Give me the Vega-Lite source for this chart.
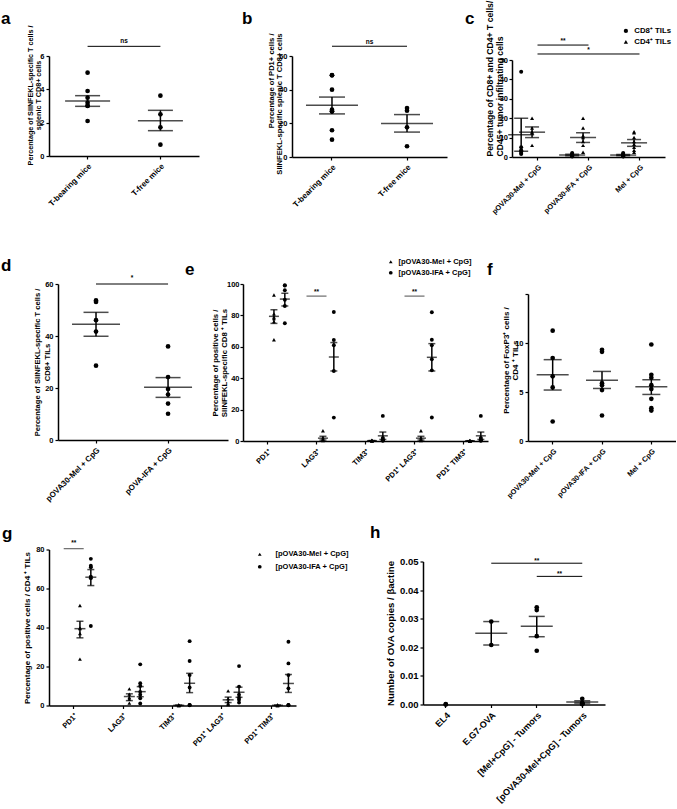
{
"$schema":"https://vega.github.io/schema/vega-lite/v6.json",
"padding":{"left":1,"top":0,"right":0,"bottom":0},
"autosize":{"type":"pad"},
"background":"white",
"config":{
 "font":"Liberation Sans",
 "view":{"stroke":null},
 "axis":{"grid":false,"domainColor":"black","domainWidth":1.5,"tickColor":"black","tickWidth":1.2,"tickSize":3,"labelColor":"black","labelFont":"Liberation Sans","labelFontWeight":"bold","labelFontSize":7.5,"labelPadding":2,"labelOverlap":false,"titleFont":"Liberation Sans","titleFontWeight":"bold","titleColor":"black","titleFontSize":7.5},
 "title":{"font":"Liberation Sans","fontSize":17,"fontWeight":"bold","color":"black","anchor":"start","frame":"group","offset":0},
 "legend":{"labelFont":"Liberation Sans","labelFontWeight":"bold","labelColor":"black","padding":0,"symbolFillColor":"black","symbolStrokeColor":"black"},
 "text":{"font":"Liberation Sans","fontWeight":"bold","fontSize":6.5,"color":"black"}
},
"datasets":{
 "a_pts":[{"g":"T-bearing mice","v":5.0},{"g":"T-bearing mice","v":3.9},{"g":"T-bearing mice","v":3.5},{"g":"T-bearing mice","v":3.2},{"g":"T-bearing mice","v":3.0},{"g":"T-bearing mice","v":3.02},{"g":"T-bearing mice","v":2.1},{"g":"T-free mice","v":3.62},{"g":"T-free mice","v":2.5},{"g":"T-free mice","v":1.72},{"g":"T-free mice","v":0.68}],
 "a_sum":[{"g":"T-bearing mice","mean":3.3,"lo":2.98,"hi":3.62},{"g":"T-free mice","mean":2.12,"lo":1.52,"hi":2.74}],
 "a_sig":[{"g1":"T-bearing mice","g2":"T-free mice","y":6.58,"ty":6.88,"label":"ns"}],
 "b_pts":[{"g":"T-bearing mice","v":48.5},{"g":"T-bearing mice","v":48.6},{"g":"T-bearing mice","v":40},{"g":"T-bearing mice","v":28.1},{"g":"T-bearing mice","v":27.1},{"g":"T-bearing mice","v":27.2},{"g":"T-bearing mice","v":15.9},{"g":"T-bearing mice","v":10.3},{"g":"T-free mice","v":27.5},{"g":"T-free mice","v":29.1},{"g":"T-free mice","v":17.6},{"g":"T-free mice","v":6.4}],
 "b_sum":[{"g":"T-bearing mice","mean":30.7,"lo":25.6,"hi":35.6},{"g":"T-free mice","mean":19.9,"lo":14.8,"hi":25.2}],
 "b_sig":[{"g1":"T-bearing mice","g2":"T-free mice","y":65.8,"ty":68.5,"label":"ns"}],
 "c_pts":[
  {"g":"pOVA30-Mel + CpG","s":"CD8⁺ TILs","v":44},{"g":"pOVA30-Mel + CpG","s":"CD8⁺ TILs","v":5},{"g":"pOVA30-Mel + CpG","s":"CD8⁺ TILs","v":3.5},{"g":"pOVA30-Mel + CpG","s":"CD8⁺ TILs","v":3},{"g":"pOVA30-Mel + CpG","s":"CD8⁺ TILs","v":2},{"g":"pOVA30-Mel + CpG","s":"CD8⁺ TILs","v":1.5},
  {"g":"pOVA30-Mel + CpG","s":"CD4⁺ TILs","v":20},{"g":"pOVA30-Mel + CpG","s":"CD4⁺ TILs","v":15},{"g":"pOVA30-Mel + CpG","s":"CD4⁺ TILs","v":13},{"g":"pOVA30-Mel + CpG","s":"CD4⁺ TILs","v":12.5},{"g":"pOVA30-Mel + CpG","s":"CD4⁺ TILs","v":6},
  {"g":"pOVA30-IFA + CpG","s":"CD8⁺ TILs","v":2},{"g":"pOVA30-IFA + CpG","s":"CD8⁺ TILs","v":1.5},{"g":"pOVA30-IFA + CpG","s":"CD8⁺ TILs","v":1.2},{"g":"pOVA30-IFA + CpG","s":"CD8⁺ TILs","v":1},{"g":"pOVA30-IFA + CpG","s":"CD8⁺ TILs","v":0.8},{"g":"pOVA30-IFA + CpG","s":"CD8⁺ TILs","v":0.5},{"g":"pOVA30-IFA + CpG","s":"CD8⁺ TILs","v":0.3},
  {"g":"pOVA30-IFA + CpG","s":"CD4⁺ TILs","v":20},{"g":"pOVA30-IFA + CpG","s":"CD4⁺ TILs","v":15},{"g":"pOVA30-IFA + CpG","s":"CD4⁺ TILs","v":11},{"g":"pOVA30-IFA + CpG","s":"CD4⁺ TILs","v":10},{"g":"pOVA30-IFA + CpG","s":"CD4⁺ TILs","v":8},{"g":"pOVA30-IFA + CpG","s":"CD4⁺ TILs","v":6},{"g":"pOVA30-IFA + CpG","s":"CD4⁺ TILs","v":2.5},
  {"g":"Mel + CpG","s":"CD8⁺ TILs","v":2},{"g":"Mel + CpG","s":"CD8⁺ TILs","v":1.6},{"g":"Mel + CpG","s":"CD8⁺ TILs","v":1.3},{"g":"Mel + CpG","s":"CD8⁺ TILs","v":1},{"g":"Mel + CpG","s":"CD8⁺ TILs","v":0.8},{"g":"Mel + CpG","s":"CD8⁺ TILs","v":0.6},{"g":"Mel + CpG","s":"CD8⁺ TILs","v":0.4},{"g":"Mel + CpG","s":"CD8⁺ TILs","v":0.3},
  {"g":"Mel + CpG","s":"CD4⁺ TILs","v":13},{"g":"Mel + CpG","s":"CD4⁺ TILs","v":12.5},{"g":"Mel + CpG","s":"CD4⁺ TILs","v":10},{"g":"Mel + CpG","s":"CD4⁺ TILs","v":8},{"g":"Mel + CpG","s":"CD4⁺ TILs","v":6.5},{"g":"Mel + CpG","s":"CD4⁺ TILs","v":5},{"g":"Mel + CpG","s":"CD4⁺ TILs","v":3.5},{"g":"Mel + CpG","s":"CD4⁺ TILs","v":2.5}],
 "c_sum":[
  {"g":"pOVA30-Mel + CpG","s":"CD8⁺ TILs","mean":11.5,"lo":3,"hi":20},{"g":"pOVA30-Mel + CpG","s":"CD4⁺ TILs","mean":12.8,"lo":10,"hi":15.5},
  {"g":"pOVA30-IFA + CpG","s":"CD8⁺ TILs","mean":1.0,"lo":0.6,"hi":1.4},{"g":"pOVA30-IFA + CpG","s":"CD4⁺ TILs","mean":10,"lo":7.5,"hi":12.5},
  {"g":"Mel + CpG","s":"CD8⁺ TILs","mean":1.0,"lo":0.7,"hi":1.3},{"g":"Mel + CpG","s":"CD4⁺ TILs","mean":7.3,"lo":5.5,"hi":9}],
 "c_sig":[{"g1":"pOVA30-Mel + CpG","g2":"pOVA30-IFA + CpG","y":57.7,"ty":59.8,"label":"**","tx":"pOVA30-Mel + CpG","edge":1},{"g1":"pOVA30-Mel + CpG","g2":"Mel + CpG","y":53.1,"ty":55,"label":"*","tx":"pOVA30-IFA + CpG","edge":0}],
 "d_pts":[{"g":"pOVA30-Mel + CpG","v":53.7},{"g":"pOVA30-Mel + CpG","v":53.1},{"g":"pOVA30-Mel + CpG","v":46.1},{"g":"pOVA30-Mel + CpG","v":41.7},{"g":"pOVA30-Mel + CpG","v":28.6},{"g":"pOVA-IFA + CpG","v":36},{"g":"pOVA-IFA + CpG","v":24.2},{"g":"pOVA-IFA + CpG","v":19.6},{"g":"pOVA-IFA + CpG","v":17.5},{"g":"pOVA-IFA + CpG","v":14},{"g":"pOVA-IFA + CpG","v":10.1}],
 "d_sum":[{"g":"pOVA30-Mel + CpG","mean":44.5,"lo":39.9,"hi":49.1},{"g":"pOVA-IFA + CpG","mean":20.3,"lo":16.4,"hi":24.0}],
 "d_sig":[{"g1":"pOVA30-Mel + CpG","g2":"pOVA-IFA + CpG","y":60,"ty":62.3,"label":"*"}],
 "e_pts":[
  {"g":"PD1⁺","s":"[pOVA30-Mel + CpG]","v":93},{"g":"PD1⁺","s":"[pOVA30-Mel + CpG]","v":81},{"g":"PD1⁺","s":"[pOVA30-Mel + CpG]","v":79},{"g":"PD1⁺","s":"[pOVA30-Mel + CpG]","v":78},{"g":"PD1⁺","s":"[pOVA30-Mel + CpG]","v":76},{"g":"PD1⁺","s":"[pOVA30-Mel + CpG]","v":64.5},
  {"g":"PD1⁺","s":"[pOVA30-IFA + CpG]","v":99},{"g":"PD1⁺","s":"[pOVA30-IFA + CpG]","v":99.2},{"g":"PD1⁺","s":"[pOVA30-IFA + CpG]","v":96},{"g":"PD1⁺","s":"[pOVA30-IFA + CpG]","v":90},{"g":"PD1⁺","s":"[pOVA30-IFA + CpG]","v":86},{"g":"PD1⁺","s":"[pOVA30-IFA + CpG]","v":75},
  {"g":"LAG3⁺","s":"[pOVA30-Mel + CpG]","v":6.5},{"g":"LAG3⁺","s":"[pOVA30-Mel + CpG]","v":2},{"g":"LAG3⁺","s":"[pOVA30-Mel + CpG]","v":1},{"g":"LAG3⁺","s":"[pOVA30-Mel + CpG]","v":0.5},{"g":"LAG3⁺","s":"[pOVA30-Mel + CpG]","v":0.3},
  {"g":"LAG3⁺","s":"[pOVA30-IFA + CpG]","v":82.2},{"g":"LAG3⁺","s":"[pOVA30-IFA + CpG]","v":64.3},{"g":"LAG3⁺","s":"[pOVA30-IFA + CpG]","v":61},{"g":"LAG3⁺","s":"[pOVA30-IFA + CpG]","v":44.6},{"g":"LAG3⁺","s":"[pOVA30-IFA + CpG]","v":14.9},
  {"g":"TIM3⁺","s":"[pOVA30-Mel + CpG]","v":0.5},{"g":"TIM3⁺","s":"[pOVA30-Mel + CpG]","v":0.3},{"g":"TIM3⁺","s":"[pOVA30-Mel + CpG]","v":0.2},{"g":"TIM3⁺","s":"[pOVA30-Mel + CpG]","v":0.1},{"g":"TIM3⁺","s":"[pOVA30-Mel + CpG]","v":0},
  {"g":"TIM3⁺","s":"[pOVA30-IFA + CpG]","v":16},{"g":"TIM3⁺","s":"[pOVA30-IFA + CpG]","v":2},{"g":"TIM3⁺","s":"[pOVA30-IFA + CpG]","v":1},{"g":"TIM3⁺","s":"[pOVA30-IFA + CpG]","v":0.5},{"g":"TIM3⁺","s":"[pOVA30-IFA + CpG]","v":0.3},{"g":"TIM3⁺","s":"[pOVA30-IFA + CpG]","v":0.2},
  {"g":"PD1⁺ LAG3⁺","s":"[pOVA30-Mel + CpG]","v":6.5},{"g":"PD1⁺ LAG3⁺","s":"[pOVA30-Mel + CpG]","v":2},{"g":"PD1⁺ LAG3⁺","s":"[pOVA30-Mel + CpG]","v":1},{"g":"PD1⁺ LAG3⁺","s":"[pOVA30-Mel + CpG]","v":0.5},{"g":"PD1⁺ LAG3⁺","s":"[pOVA30-Mel + CpG]","v":0.3},
  {"g":"PD1⁺ LAG3⁺","s":"[pOVA30-IFA + CpG]","v":82},{"g":"PD1⁺ LAG3⁺","s":"[pOVA30-IFA + CpG]","v":64.5},{"g":"PD1⁺ LAG3⁺","s":"[pOVA30-IFA + CpG]","v":61},{"g":"PD1⁺ LAG3⁺","s":"[pOVA30-IFA + CpG]","v":52},{"g":"PD1⁺ LAG3⁺","s":"[pOVA30-IFA + CpG]","v":45},{"g":"PD1⁺ LAG3⁺","s":"[pOVA30-IFA + CpG]","v":15},
  {"g":"PD1⁺ TIM3⁺","s":"[pOVA30-Mel + CpG]","v":0.3},{"g":"PD1⁺ TIM3⁺","s":"[pOVA30-Mel + CpG]","v":0.2},{"g":"PD1⁺ TIM3⁺","s":"[pOVA30-Mel + CpG]","v":0.1},{"g":"PD1⁺ TIM3⁺","s":"[pOVA30-Mel + CpG]","v":0},{"g":"PD1⁺ TIM3⁺","s":"[pOVA30-Mel + CpG]","v":0},
  {"g":"PD1⁺ TIM3⁺","s":"[pOVA30-IFA + CpG]","v":16},{"g":"PD1⁺ TIM3⁺","s":"[pOVA30-IFA + CpG]","v":2},{"g":"PD1⁺ TIM3⁺","s":"[pOVA30-IFA + CpG]","v":1},{"g":"PD1⁺ TIM3⁺","s":"[pOVA30-IFA + CpG]","v":0.5},{"g":"PD1⁺ TIM3⁺","s":"[pOVA30-IFA + CpG]","v":0.3},{"g":"PD1⁺ TIM3⁺","s":"[pOVA30-IFA + CpG]","v":0.2}],
 "e_sum":[
  {"g":"PD1⁺","s":"[pOVA30-Mel + CpG]","mean":79.4,"lo":74.9,"hi":83.6},{"g":"PD1⁺","s":"[pOVA30-IFA + CpG]","mean":90.4,"lo":86,"hi":94.1},
  {"g":"LAG3⁺","s":"[pOVA30-Mel + CpG]","mean":1.8,"lo":0.6,"hi":3.0},{"g":"LAG3⁺","s":"[pOVA30-IFA + CpG]","mean":53.5,"lo":44.6,"hi":62.7},
  {"g":"TIM3⁺","s":"[pOVA30-Mel + CpG]","mean":0.2,"lo":0.1,"hi":0.3},{"g":"TIM3⁺","s":"[pOVA30-IFA + CpG]","mean":3.3,"lo":1.0,"hi":5.7},
  {"g":"PD1⁺ LAG3⁺","s":"[pOVA30-Mel + CpG]","mean":1.8,"lo":0.6,"hi":3.0},{"g":"PD1⁺ LAG3⁺","s":"[pOVA30-IFA + CpG]","mean":53.3,"lo":44.6,"hi":62},
  {"g":"PD1⁺ TIM3⁺","s":"[pOVA30-Mel + CpG]","mean":0.1,"lo":0.05,"hi":0.2},{"g":"PD1⁺ TIM3⁺","s":"[pOVA30-IFA + CpG]","mean":3.3,"lo":1.0,"hi":5.7}],
 "e_sig":[{"g":"LAG3⁺","y":92.3,"ty":94.8,"label":"**"},{"g":"PD1⁺ LAG3⁺","y":92.3,"ty":94.8,"label":"**"}],
 "f_pts":[{"g":"pOVA30-Mel + CpG","v":11.26},{"g":"pOVA30-Mel + CpG","v":8.47},{"g":"pOVA30-Mel + CpG","v":6.6},{"g":"pOVA30-Mel + CpG","v":5.47},{"g":"pOVA30-Mel + CpG","v":1.99},
  {"g":"pOVA30-IFA + CpG","v":9.3},{"g":"pOVA30-IFA + CpG","v":9.1},{"g":"pOVA30-IFA + CpG","v":5.9},{"g":"pOVA30-IFA + CpG","v":5.7},{"g":"pOVA30-IFA + CpG","v":5.2},{"g":"pOVA30-IFA + CpG","v":2.6},
  {"g":"Mel + CpG","v":9.85},{"g":"Mel + CpG","v":6.75},{"g":"Mel + CpG","v":6.45},{"g":"Mel + CpG","v":5.7},{"g":"Mel + CpG","v":5.3},{"g":"Mel + CpG","v":4.3},{"g":"Mel + CpG","v":3.35},{"g":"Mel + CpG","v":3.1}],
 "f_sum":[{"g":"pOVA30-Mel + CpG","mean":6.76,"lo":5.2,"hi":8.3},{"g":"pOVA30-IFA + CpG","mean":6.2,"lo":5.36,"hi":7.1},{"g":"Mel + CpG","mean":5.53,"lo":4.75,"hi":6.25}],
 "g_pts":[
  {"g":"PD1⁺","s":"[pOVA30-Mel + CpG]","v":51.3},{"g":"PD1⁺","s":"[pOVA30-Mel + CpG]","v":39.8},{"g":"PD1⁺","s":"[pOVA30-Mel + CpG]","v":39.4},{"g":"PD1⁺","s":"[pOVA30-Mel + CpG]","v":36.9},{"g":"PD1⁺","s":"[pOVA30-Mel + CpG]","v":23.8},
  {"g":"PD1⁺","s":"[pOVA30-IFA + CpG]","v":75.2},{"g":"PD1⁺","s":"[pOVA30-IFA + CpG]","v":71.7},{"g":"PD1⁺","s":"[pOVA30-IFA + CpG]","v":70.9},{"g":"PD1⁺","s":"[pOVA30-IFA + CpG]","v":66.1},{"g":"PD1⁺","s":"[pOVA30-IFA + CpG]","v":65.3},{"g":"PD1⁺","s":"[pOVA30-IFA + CpG]","v":40.8},
  {"g":"LAG3⁺","s":"[pOVA30-Mel + CpG]","v":8.5},{"g":"LAG3⁺","s":"[pOVA30-Mel + CpG]","v":5.8},{"g":"LAG3⁺","s":"[pOVA30-Mel + CpG]","v":4.1},{"g":"LAG3⁺","s":"[pOVA30-Mel + CpG]","v":3.3},{"g":"LAG3⁺","s":"[pOVA30-Mel + CpG]","v":1.2},
  {"g":"LAG3⁺","s":"[pOVA30-IFA + CpG]","v":21.1},{"g":"LAG3⁺","s":"[pOVA30-IFA + CpG]","v":11.4},{"g":"LAG3⁺","s":"[pOVA30-IFA + CpG]","v":10},{"g":"LAG3⁺","s":"[pOVA30-IFA + CpG]","v":7},{"g":"LAG3⁺","s":"[pOVA30-IFA + CpG]","v":5.5},{"g":"LAG3⁺","s":"[pOVA30-IFA + CpG]","v":3.7},{"g":"LAG3⁺","s":"[pOVA30-IFA + CpG]","v":1},
  {"g":"TIM3⁺","s":"[pOVA30-Mel + CpG]","v":0.3},{"g":"TIM3⁺","s":"[pOVA30-Mel + CpG]","v":0.2},{"g":"TIM3⁺","s":"[pOVA30-Mel + CpG]","v":0.1},{"g":"TIM3⁺","s":"[pOVA30-Mel + CpG]","v":0},{"g":"TIM3⁺","s":"[pOVA30-Mel + CpG]","v":0},
  {"g":"TIM3⁺","s":"[pOVA30-IFA + CpG]","v":33},{"g":"TIM3⁺","s":"[pOVA30-IFA + CpG]","v":22.8},{"g":"TIM3⁺","s":"[pOVA30-IFA + CpG]","v":15.6},{"g":"TIM3⁺","s":"[pOVA30-IFA + CpG]","v":9.2},{"g":"TIM3⁺","s":"[pOVA30-IFA + CpG]","v":0.3},{"g":"TIM3⁺","s":"[pOVA30-IFA + CpG]","v":0.2},{"g":"TIM3⁺","s":"[pOVA30-IFA + CpG]","v":0.1},
  {"g":"PD1⁺ LAG3⁺","s":"[pOVA30-Mel + CpG]","v":7.5},{"g":"PD1⁺ LAG3⁺","s":"[pOVA30-Mel + CpG]","v":3.5},{"g":"PD1⁺ LAG3⁺","s":"[pOVA30-Mel + CpG]","v":2},{"g":"PD1⁺ LAG3⁺","s":"[pOVA30-Mel + CpG]","v":1},{"g":"PD1⁺ LAG3⁺","s":"[pOVA30-Mel + CpG]","v":0.5},
  {"g":"PD1⁺ LAG3⁺","s":"[pOVA30-IFA + CpG]","v":20.2},{"g":"PD1⁺ LAG3⁺","s":"[pOVA30-IFA + CpG]","v":9.7},{"g":"PD1⁺ LAG3⁺","s":"[pOVA30-IFA + CpG]","v":5.5},{"g":"PD1⁺ LAG3⁺","s":"[pOVA30-IFA + CpG]","v":4},{"g":"PD1⁺ LAG3⁺","s":"[pOVA30-IFA + CpG]","v":3},{"g":"PD1⁺ LAG3⁺","s":"[pOVA30-IFA + CpG]","v":1.5},
  {"g":"PD1⁺ TIM3⁺","s":"[pOVA30-Mel + CpG]","v":0.3},{"g":"PD1⁺ TIM3⁺","s":"[pOVA30-Mel + CpG]","v":0.2},{"g":"PD1⁺ TIM3⁺","s":"[pOVA30-Mel + CpG]","v":0.1},{"g":"PD1⁺ TIM3⁺","s":"[pOVA30-Mel + CpG]","v":0},{"g":"PD1⁺ TIM3⁺","s":"[pOVA30-Mel + CpG]","v":0},
  {"g":"PD1⁺ TIM3⁺","s":"[pOVA30-IFA + CpG]","v":32.7},{"g":"PD1⁺ TIM3⁺","s":"[pOVA30-IFA + CpG]","v":21.6},{"g":"PD1⁺ TIM3⁺","s":"[pOVA30-IFA + CpG]","v":15.6},{"g":"PD1⁺ TIM3⁺","s":"[pOVA30-IFA + CpG]","v":8.8},{"g":"PD1⁺ TIM3⁺","s":"[pOVA30-IFA + CpG]","v":0.3},{"g":"PD1⁺ TIM3⁺","s":"[pOVA30-IFA + CpG]","v":0.2},{"g":"PD1⁺ TIM3⁺","s":"[pOVA30-IFA + CpG]","v":0.1}],
 "g_sum":[
  {"g":"PD1⁺","s":"[pOVA30-Mel + CpG]","mean":39.4,"lo":34.7,"hi":43.2},{"g":"PD1⁺","s":"[pOVA30-IFA + CpG]","mean":65.8,"lo":61.5,"hi":69.7},
  {"g":"LAG3⁺","s":"[pOVA30-Mel + CpG]","mean":4.6,"lo":2.5,"hi":6.0},{"g":"LAG3⁺","s":"[pOVA30-IFA + CpG]","mean":7.1,"lo":4.5,"hi":9.7},
  {"g":"TIM3⁺","s":"[pOVA30-Mel + CpG]","mean":0.1,"lo":0,"hi":0.2},{"g":"TIM3⁺","s":"[pOVA30-IFA + CpG]","mean":11.4,"lo":6.6,"hi":16.5},
  {"g":"PD1⁺ LAG3⁺","s":"[pOVA30-Mel + CpG]","mean":2.9,"lo":1.5,"hi":4.3},{"g":"PD1⁺ LAG3⁺","s":"[pOVA30-IFA + CpG]","mean":6.8,"lo":4.2,"hi":9.4},
  {"g":"PD1⁺ TIM3⁺","s":"[pOVA30-Mel + CpG]","mean":0.1,"lo":0,"hi":0.2},{"g":"PD1⁺ TIM3⁺","s":"[pOVA30-IFA + CpG]","mean":11.3,"lo":6.7,"hi":15.9}],
 "g_sig":[{"g":"PD1⁺","y":80.4,"ty":83.3,"label":"**"}],
 "h_pts":[{"g":"EL4","v":0},{"g":"EL4","v":0.0001},{"g":"E.G7-OVA","v":0.029},{"g":"E.G7-OVA","v":0.0208},{"g":"[Mel+CpG] - Tumors","v":0.033},{"g":"[Mel+CpG] - Tumors","v":0.034},{"g":"[Mel+CpG] - Tumors","v":0.0239},{"g":"[Mel+CpG] - Tumors","v":0.0188},{"g":"[pOVA30-Mel+CpG] - Tumors","v":0.002},{"g":"[pOVA30-Mel+CpG] - Tumors","v":0.0006},{"g":"[pOVA30-Mel+CpG] - Tumors","v":0.0004},{"g":"[pOVA30-Mel+CpG] - Tumors","v":0.0003},{"g":"[pOVA30-Mel+CpG] - Tumors","v":0.0002},{"g":"[pOVA30-Mel+CpG] - Tumors","v":0.0001}],
 "h_sum":[{"g":"E.G7-OVA","mean":0.0249,"lo":0.0208,"hi":0.029},{"g":"[Mel+CpG] - Tumors","mean":0.0274,"lo":0.0237,"hi":0.0308},{"g":"[pOVA30-Mel+CpG] - Tumors","mean":0.0009,"lo":0.0005,"hi":0.0013}],
 "h_sig":[{"g1":"E.G7-OVA","g2":"[pOVA30-Mel+CpG] - Tumors","y":0.0494,"ty":0.0503,"label":"**","tx":"[Mel+CpG] - Tumors","edge":0},{"g1":"[Mel+CpG] - Tumors","g2":"[pOVA30-Mel+CpG] - Tumors","y":0.0448,"ty":0.0457,"label":"**","tx":"[Mel+CpG] - Tumors","edge":1}]
},
"bounds":"full","spacing":20.5,
"resolve":{"scale":{"shape":"independent"},"legend":{"shape":"independent"}},
"vconcat":[
 {"bounds":"full","spacing":42,
  "resolve":{"scale":{"shape":"independent"},"legend":{"shape":"independent"}},
  "vconcat":[
  {"bounds":"flush","spacing":0,
   "resolve":{"scale":{"shape":"independent"},"legend":{"shape":"independent"}},
   "hconcat":[
    {"width":150,"height":100,
     "layer":[
      {"data":{"name":"a_pts"},"mark":{"type":"point","filled":true,"shape":"circle","size":22,"color":"black","opacity":1},
       "encoding":{"x":{"field":"g","type":"nominal","scale":{"type":"band","domain":["T-bearing mice","T-free mice"],"paddingInner":0,"paddingOuter":0.03},"axis":{"title":null,"labelAngle":-45,"labelFontSize":8,"labelPadding":3,"labelOverlap":false}},
        "y":{"field":"v","type":"quantitative","scale":{"domain":[0,6],"nice":false},"axis":{"values":[0,2,4,6],"tickCount":20,"format":"d","labelOverlap":false,"title":["Percentage of SIINFEKL-specific T cells /","splenic T CD8+ cells"],"titleFontSize":7.2,"titleLineHeight":8,"titleX":-15,"titleY":39,"titleAlign":"center"}}}},
      {"data":{"name":"a_sum"},"mark":{"type":"tick","size":45,"thickness":1.5,"color":"black"},"encoding":{"x":{"field":"g","type":"nominal"},"y":{"field":"mean","type":"quantitative"}}},
      {"data":{"name":"a_sum"},"mark":{"type":"rule","strokeWidth":1.5,"color":"black"},"encoding":{"x":{"field":"g","type":"nominal"},"y":{"field":"lo","type":"quantitative"},"y2":{"field":"hi"}}},
      {"data":{"name":"a_sum"},"mark":{"type":"tick","size":25,"thickness":1.5,"color":"black"},"encoding":{"x":{"field":"g","type":"nominal"},"y":{"field":"lo","type":"quantitative"}}},
      {"data":{"name":"a_sum"},"mark":{"type":"tick","size":25,"thickness":1.5,"color":"black"},"encoding":{"x":{"field":"g","type":"nominal"},"y":{"field":"hi","type":"quantitative"}}},
      {"data":{"name":"a_sig"},"mark":{"type":"rule","strokeWidth":1,"color":"black"},"encoding":{"x":{"field":"g1","type":"nominal"},"x2":{"field":"g2"},"y":{"field":"y","type":"quantitative"}}},
      {"data":{"name":"a_sig"},"mark":{"type":"text","baseline":"middle"},"encoding":{"x":{"field":"g1","type":"nominal","bandPosition":1},"y":{"field":"ty","type":"quantitative"},"text":{"field":"label"}}}
     ]},
    {"width":93,"height":1,"title":{"text":"a","dx":-198,"dy":-21.5},"data":{"values":[{"k":0}]},"mark":{"type":"point","opacity":0},"encoding":{}},
    {"width":155,"height":101,
     "layer":[
      {"data":{"name":"b_pts"},"mark":{"type":"point","filled":true,"shape":"circle","size":22,"color":"black","opacity":1},
       "encoding":{"x":{"field":"g","type":"nominal","scale":{"type":"band","domain":["T-bearing mice","T-free mice"],"paddingInner":0,"paddingOuter":0.033},"axis":{"title":null,"labelAngle":-45,"labelFontSize":8,"labelPadding":3,"labelOverlap":false}},
        "y":{"field":"v","type":"quantitative","scale":{"domain":[0,60],"nice":false},"axis":{"values":[0,20,40,60],"tickCount":20,"format":"d","labelOverlap":false,"title":["Percentage of PD1+ cells /","SIINFEKL-specific splenic T CD8+ cells"],"titleFontSize":7.6,"titleLineHeight":8.3,"titleX":-16.6,"titleY":-23,"titleAlign":"right"}}}},
      {"data":{"name":"b_sum"},"mark":{"type":"tick","size":52,"thickness":1.5,"color":"black"},"encoding":{"x":{"field":"g","type":"nominal"},"y":{"field":"mean","type":"quantitative"}}},
      {"data":{"name":"b_sum"},"mark":{"type":"rule","strokeWidth":1.5,"color":"black"},"encoding":{"x":{"field":"g","type":"nominal"},"y":{"field":"lo","type":"quantitative"},"y2":{"field":"hi"}}},
      {"data":{"name":"b_sum"},"mark":{"type":"tick","size":26,"thickness":1.5,"color":"black"},"encoding":{"x":{"field":"g","type":"nominal"},"y":{"field":"lo","type":"quantitative"}}},
      {"data":{"name":"b_sum"},"mark":{"type":"tick","size":26,"thickness":1.5,"color":"black"},"encoding":{"x":{"field":"g","type":"nominal"},"y":{"field":"hi","type":"quantitative"}}},
      {"data":{"name":"b_sig"},"mark":{"type":"rule","strokeWidth":1,"color":"black"},"encoding":{"x":{"field":"g1","type":"nominal"},"x2":{"field":"g2"},"y":{"field":"y","type":"quantitative"}}},
      {"data":{"name":"b_sig"},"mark":{"type":"text","baseline":"middle"},"encoding":{"x":{"field":"g1","type":"nominal","bandPosition":1},"y":{"field":"ty","type":"quantitative"},"text":{"field":"label"}}}
     ]},
    {"width":65,"height":1,"title":{"text":"b","dx":-205,"dy":-21.5},"data":{"values":[{"k":0}]},"mark":{"type":"point","opacity":0},"encoding":{}},
    {"bounds":"flush","spacing":3,"vconcat":[
     {"width":1,"height":1,"title":{"text":"c","dx":-47,"dy":-21.5},"data":{"values":[{"k":0}]},"mark":{"type":"point","opacity":0},"encoding":{}},
     {"width":153,"height":97,
      "layer":[
       {"data":{"name":"c_pts"},"mark":{"type":"point","filled":true,"size":16,"color":"black","opacity":1},
        "encoding":{"x":{"field":"g","type":"nominal","scale":{"type":"band","domain":["pOVA30-Mel + CpG","pOVA30-IFA + CpG","Mel + CpG"],"paddingInner":0,"paddingOuter":0},"axis":{"title":null,"labelAngle":-45,"labelFontSize":7.3,"labelPadding":3,"labelOverlap":false}},
         "xOffset":{"field":"s","type":"nominal","scale":{"type":"band","domain":["CD8⁺ TILs","CD4⁺ TILs"],"paddingInner":0,"paddingOuter":0.342}},
         "y":{"field":"v","type":"quantitative","scale":{"domain":[0,50],"nice":false},"axis":{"values":[0,10,20,30,40,50],"tickCount":20,"format":"d","labelOverlap":false,"labelFontSize":7.5,"labelPadding":1.5,"title":["Percentage of CD8+ and CD4+ T cells/","CD45+ tumor infiltrating cells"],"titleFontSize":8.65,"titleLineHeight":9.5,"titleX":-17.5,"titleY":96,"titleAlign":"left"}},
         "shape":{"field":"s","type":"nominal","scale":{"domain":["CD8⁺ TILs","CD4⁺ TILs"],"range":["circle","triangle-up"]},"legend":{"title":null,"orient":"none","legendX":110,"legendY":-29,"labelFontSize":7.8,"symbolSize":18,"rowPadding":0,"labelOffset":4.5}}}},
       {"data":{"name":"c_sum"},"mark":{"type":"tick","size":26,"thickness":1.5,"color":"black"},"encoding":{"x":{"field":"g","type":"nominal"},"xOffset":{"field":"s","type":"nominal"},"y":{"field":"mean","type":"quantitative"}}},
       {"data":{"name":"c_sum"},"mark":{"type":"rule","strokeWidth":1.5,"color":"black"},"encoding":{"x":{"field":"g","type":"nominal"},"xOffset":{"field":"s","type":"nominal"},"y":{"field":"lo","type":"quantitative"},"y2":{"field":"hi"}}},
       {"data":{"name":"c_sum"},"mark":{"type":"tick","size":14,"thickness":1.5,"color":"black"},"encoding":{"x":{"field":"g","type":"nominal"},"xOffset":{"field":"s","type":"nominal"},"y":{"field":"lo","type":"quantitative"}}},
       {"data":{"name":"c_sum"},"mark":{"type":"tick","size":14,"thickness":1.5,"color":"black"},"encoding":{"x":{"field":"g","type":"nominal"},"xOffset":{"field":"s","type":"nominal"},"y":{"field":"hi","type":"quantitative"}}},
       {"data":{"name":"c_sig"},"mark":{"type":"rule","strokeWidth":1,"color":"black"},"encoding":{"x":{"field":"g1","type":"nominal"},"x2":{"field":"g2"},"y":{"field":"y","type":"quantitative"}}},
       {"data":{"name":"c_sig"},"transform":[{"filter":"datum.edge == 1"}],"mark":{"type":"text","baseline":"middle"},"encoding":{"x":{"field":"tx","type":"nominal","bandPosition":1},"y":{"field":"ty","type":"quantitative"},"text":{"field":"label"}}},
       {"data":{"name":"c_sig"},"transform":[{"filter":"datum.edge == 0"}],"mark":{"type":"text","baseline":"middle"},"encoding":{"x":{"field":"tx","type":"nominal"},"y":{"field":"ty","type":"quantitative"},"text":{"field":"label"}}}
      ]}
    ]}
  ]},
  {"bounds":"flush","spacing":0,
   "resolve":{"scale":{"shape":"independent"},"legend":{"shape":"independent"}},
   "hconcat":[
    {"width":9,"height":1,"title":{"text":"d","dx":-48,"dy":-2.5},"data":{"values":[{"k":0}]},"mark":{"type":"point","opacity":0},"encoding":{}},
    {"width":170,"height":156,
     "layer":[
      {"data":{"name":"d_pts"},"mark":{"type":"point","filled":true,"shape":"circle","size":22,"color":"black","opacity":1},
       "encoding":{"x":{"field":"g","type":"nominal","scale":{"type":"band","domain":["pOVA30-Mel + CpG","pOVA-IFA + CpG"],"paddingInner":0,"paddingOuter":0.18,"align":0.077},"axis":{"title":null,"labelAngle":-45,"labelFontSize":8,"labelPadding":3,"labelOverlap":false}},
        "y":{"field":"v","type":"quantitative","scale":{"domain":[0,60],"nice":false},"axis":{"values":[0,20,40,60],"tickCount":20,"format":"d","labelOverlap":false,"title":["Percentage of SIINFEKL-specific T cells /","CD8+ TILs"],"titleFontSize":7.6,"titleLineHeight":10,"titleX":-16.5}}}},
      {"data":{"name":"d_sum"},"mark":{"type":"tick","size":48,"thickness":1.5,"color":"black"},"encoding":{"x":{"field":"g","type":"nominal"},"y":{"field":"mean","type":"quantitative"}}},
      {"data":{"name":"d_sum"},"mark":{"type":"rule","strokeWidth":1.5,"color":"black"},"encoding":{"x":{"field":"g","type":"nominal"},"y":{"field":"lo","type":"quantitative"},"y2":{"field":"hi"}}},
      {"data":{"name":"d_sum"},"mark":{"type":"tick","size":25,"thickness":1.5,"color":"black"},"encoding":{"x":{"field":"g","type":"nominal"},"y":{"field":"lo","type":"quantitative"}}},
      {"data":{"name":"d_sum"},"mark":{"type":"tick","size":25,"thickness":1.5,"color":"black"},"encoding":{"x":{"field":"g","type":"nominal"},"y":{"field":"hi","type":"quantitative"}}},
      {"data":{"name":"d_sig"},"mark":{"type":"rule","strokeWidth":1,"color":"black"},"encoding":{"x":{"field":"g1","type":"nominal"},"x2":{"field":"g2"},"y":{"field":"y","type":"quantitative"}}},
      {"data":{"name":"d_sig"},"mark":{"type":"text","baseline":"middle"},"encoding":{"x":{"field":"g1","type":"nominal","bandPosition":1},"y":{"field":"ty","type":"quantitative"},"text":{"field":"label"}}}
     ]},
    {"width":15,"height":1,"title":{"text":"e","dx":-43,"dy":1.5},"data":{"values":[{"k":0}]},"mark":{"type":"point","opacity":0},"encoding":{}},
    {"width":245,"height":157,
     "layer":[
      {"data":{"name":"e_pts"},"mark":{"type":"point","filled":true,"size":15,"color":"black","opacity":1},
       "encoding":{"x":{"field":"g","type":"nominal","scale":{"type":"band","domain":["PD1⁺","LAG3⁺","TIM3⁺","PD1⁺ LAG3⁺","PD1⁺ TIM3⁺"],"paddingInner":0,"paddingOuter":0},"axis":{"title":null,"labelAngle":-45,"labelFontSize":7.5,"labelPadding":3,"labelOverlap":false}},
        "xOffset":{"field":"s","type":"nominal","scale":{"type":"band","domain":["[pOVA30-Mel + CpG]","[pOVA30-IFA + CpG]"],"paddingInner":0,"paddingOuter":0.885}},
        "y":{"field":"v","type":"quantitative","scale":{"domain":[0,100],"nice":false},"axis":{"values":[0,20,40,60,80,100],"tickCount":20,"format":"d","labelOverlap":false,"labelPadding":1,"title":["Percentage of positive cells /","SIINFEKL-specific CD8 ⁺ TILs"],"titleFontSize":7.8,"titleLineHeight":9,"titleX":-23.5}},
        "shape":{"field":"s","type":"nominal","scale":{"domain":["[pOVA30-Mel + CpG]","[pOVA30-IFA + CpG]"],"range":["triangle-up","circle"]},"legend":{"title":null,"orient":"none","legendX":144,"legendY":-26,"labelFontSize":7.5,"symbolSize":14,"rowPadding":0,"labelOffset":4}}}},
      {"data":{"name":"e_sum"},"mark":{"type":"tick","size":10,"thickness":1.5,"color":"black"},"encoding":{"x":{"field":"g","type":"nominal"},"xOffset":{"field":"s","type":"nominal"},"y":{"field":"mean","type":"quantitative"}}},
      {"data":{"name":"e_sum"},"mark":{"type":"rule","strokeWidth":1.5,"color":"black"},"encoding":{"x":{"field":"g","type":"nominal"},"xOffset":{"field":"s","type":"nominal"},"y":{"field":"lo","type":"quantitative"},"y2":{"field":"hi"}}},
      {"data":{"name":"e_sum"},"mark":{"type":"tick","size":7,"thickness":1.5,"color":"black"},"encoding":{"x":{"field":"g","type":"nominal"},"xOffset":{"field":"s","type":"nominal"},"y":{"field":"lo","type":"quantitative"}}},
      {"data":{"name":"e_sum"},"mark":{"type":"tick","size":7,"thickness":1.5,"color":"black"},"encoding":{"x":{"field":"g","type":"nominal"},"xOffset":{"field":"s","type":"nominal"},"y":{"field":"hi","type":"quantitative"}}},
      {"data":{"name":"e_sig"},"mark":{"type":"tick","size":20,"thickness":1,"color":"black"},"encoding":{"x":{"field":"g","type":"nominal"},"y":{"field":"y","type":"quantitative"}}},
      {"data":{"name":"e_sig"},"mark":{"type":"text","baseline":"middle"},"encoding":{"x":{"field":"g","type":"nominal"},"y":{"field":"ty","type":"quantitative"},"text":{"field":"label"}}}
     ]},
    {"width":40,"height":1,"data":{"values":[{"k":0}]},"mark":{"type":"point","opacity":0},"encoding":{}},
    {"bounds":"flush","spacing":9,"vconcat":[
     {"width":1,"height":1,"title":{"text":"f","dx":-41,"dy":1.5},"data":{"values":[{"k":0}]},"mark":{"type":"point","opacity":0},"encoding":{}},
     {"width":148,"height":147,
      "layer":[
       {"data":{"name":"f_pts"},"mark":{"type":"point","filled":true,"shape":"circle","size":22,"color":"black","opacity":1},
        "encoding":{"x":{"field":"g","type":"nominal","scale":{"type":"band","domain":["pOVA30-Mel + CpG","pOVA30-IFA + CpG","Mel + CpG"],"paddingInner":0,"paddingOuter":0},"axis":{"title":null,"labelAngle":-45,"labelFontSize":7.3,"labelPadding":3,"labelOverlap":false}},
         "y":{"field":"v","type":"quantitative","scale":{"domain":[0,15],"nice":false},"axis":{"values":[0,5,10,15],"tickCount":20,"format":"d","labelOverlap":false,"labelExpr":"datum.value == 15 ? '' : datum.label","title":["Percentage of FoxP3⁺ cells /","CD4 ⁺ TILs"],"titleFontSize":8,"titleLineHeight":9,"titleX":-17.5,"titleY":66,"titleAlign":"center"}}}},
       {"data":{"name":"f_sum"},"mark":{"type":"tick","size":32,"thickness":1.5,"color":"black"},"encoding":{"x":{"field":"g","type":"nominal"},"y":{"field":"mean","type":"quantitative"}}},
       {"data":{"name":"f_sum"},"mark":{"type":"rule","strokeWidth":1.5,"color":"black"},"encoding":{"x":{"field":"g","type":"nominal"},"y":{"field":"lo","type":"quantitative"},"y2":{"field":"hi"}}},
       {"data":{"name":"f_sum"},"mark":{"type":"tick","size":18,"thickness":1.5,"color":"black"},"encoding":{"x":{"field":"g","type":"nominal"},"y":{"field":"lo","type":"quantitative"}}},
       {"data":{"name":"f_sum"},"mark":{"type":"tick","size":18,"thickness":1.5,"color":"black"},"encoding":{"x":{"field":"g","type":"nominal"},"y":{"field":"hi","type":"quantitative"}}}
      ]}
    ]}
  ]}
 ]},
 {"bounds":"flush","spacing":0,
  "resolve":{"scale":{"shape":"independent"},"legend":{"shape":"independent"}},
  "hconcat":[
  {"width":247,"height":156,
   "layer":[
    {"data":{"name":"g_pts"},"mark":{"type":"point","filled":true,"size":15,"color":"black","opacity":1},
     "encoding":{"x":{"field":"g","type":"nominal","scale":{"type":"band","domain":["PD1⁺","LAG3⁺","TIM3⁺","PD1⁺ LAG3⁺","PD1⁺ TIM3⁺"],"paddingInner":0,"paddingOuter":0},"axis":{"title":null,"labelAngle":-45,"labelFontSize":7.5,"labelPadding":3,"labelOverlap":false}},
      "xOffset":{"field":"s","type":"nominal","scale":{"type":"band","domain":["[pOVA30-Mel + CpG]","[pOVA30-IFA + CpG]"],"paddingInner":0,"paddingOuter":0.976}},
      "y":{"field":"v","type":"quantitative","scale":{"domain":[0,80],"nice":false},"axis":{"values":[0,20,40,60,80],"tickCount":20,"format":"d","labelOverlap":false,"title":"Percentage of positive cells / CD4 ⁺ TILs","titleFontSize":8,"titleX":-17.7}},
      "shape":{"field":"s","type":"nominal","scale":{"domain":["[pOVA30-Mel + CpG]","[pOVA30-IFA + CpG]"],"range":["triangle-up","circle"]},"legend":{"title":null,"orient":"none","legendX":207,"legendY":1,"labelFontSize":7.5,"symbolSize":14,"rowPadding":1.5,"labelOffset":12}}}},
    {"data":{"name":"g_sum"},"mark":{"type":"tick","size":11,"thickness":1.5,"color":"black"},"encoding":{"x":{"field":"g","type":"nominal"},"xOffset":{"field":"s","type":"nominal"},"y":{"field":"mean","type":"quantitative"}}},
    {"data":{"name":"g_sum"},"mark":{"type":"rule","strokeWidth":1.5,"color":"black"},"encoding":{"x":{"field":"g","type":"nominal"},"xOffset":{"field":"s","type":"nominal"},"y":{"field":"lo","type":"quantitative"},"y2":{"field":"hi"}}},
    {"data":{"name":"g_sum"},"mark":{"type":"tick","size":7,"thickness":1.5,"color":"black"},"encoding":{"x":{"field":"g","type":"nominal"},"xOffset":{"field":"s","type":"nominal"},"y":{"field":"lo","type":"quantitative"}}},
    {"data":{"name":"g_sum"},"mark":{"type":"tick","size":7,"thickness":1.5,"color":"black"},"encoding":{"x":{"field":"g","type":"nominal"},"xOffset":{"field":"s","type":"nominal"},"y":{"field":"hi","type":"quantitative"}}},
    {"data":{"name":"g_sig"},"mark":{"type":"tick","size":20,"thickness":1,"color":"black"},"encoding":{"x":{"field":"g","type":"nominal"},"y":{"field":"y","type":"quantitative"}}},
    {"data":{"name":"g_sig"},"mark":{"type":"text","baseline":"middle"},"encoding":{"x":{"field":"g","type":"nominal"},"y":{"field":"ty","type":"quantitative"},"text":{"field":"label"}}}
   ]},
  {"width":127,"height":1,"title":{"text":"h","dx":74,"dy":-1.5},"data":{"values":[{"k":0}]},"mark":{"type":"point","opacity":0},"encoding":{}},
  {"bounds":"flush","spacing":11,"vconcat":[
   {"width":1,"height":1,"title":{"text":"g","dx":-421,"dy":-0.5},"data":{"values":[{"k":0}]},"mark":{"type":"point","opacity":0},"encoding":{}},
   {"width":182,"height":143,
    "layer":[
     {"data":{"name":"h_pts"},"mark":{"type":"point","filled":true,"shape":"circle","size":22,"color":"black","opacity":1},
      "encoding":{"x":{"field":"g","type":"nominal","scale":{"type":"band","domain":["EL4","E.G7-OVA","[Mel+CpG] - Tumors","[pOVA30-Mel+CpG] - Tumors"],"paddingInner":0,"paddingOuter":0},"axis":{"title":null,"labelAngle":-45,"labelFontSize":9,"labelPadding":3,"labelOverlap":false}},
       "y":{"field":"v","type":"quantitative","scale":{"domain":[0,0.05],"nice":false},"axis":{"values":[0,0.01,0.02,0.03,0.04,0.05],"tickCount":20,"labelOverlap":false,"format":".2f","labelFontSize":9.5,"title":"Number of OVA copies / βactine","titleFontSize":9.6,"titleX":-28}}}},
     {"data":{"name":"h_sum"},"mark":{"type":"tick","size":32,"thickness":1.5,"color":"black"},"encoding":{"x":{"field":"g","type":"nominal"},"y":{"field":"mean","type":"quantitative"}}},
     {"data":{"name":"h_sum"},"mark":{"type":"rule","strokeWidth":1.5,"color":"black"},"encoding":{"x":{"field":"g","type":"nominal"},"y":{"field":"lo","type":"quantitative"},"y2":{"field":"hi"}}},
     {"data":{"name":"h_sum"},"mark":{"type":"tick","size":16,"thickness":1.5,"color":"black"},"encoding":{"x":{"field":"g","type":"nominal"},"y":{"field":"lo","type":"quantitative"}}},
     {"data":{"name":"h_sum"},"mark":{"type":"tick","size":16,"thickness":1.5,"color":"black"},"encoding":{"x":{"field":"g","type":"nominal"},"y":{"field":"hi","type":"quantitative"}}},
     {"data":{"name":"h_sig"},"mark":{"type":"rule","strokeWidth":1,"color":"black"},"encoding":{"x":{"field":"g1","type":"nominal"},"x2":{"field":"g2"},"y":{"field":"y","type":"quantitative"}}},
     {"data":{"name":"h_sig"},"transform":[{"filter":"datum.edge == 1"}],"mark":{"type":"text","baseline":"middle"},"encoding":{"x":{"field":"tx","type":"nominal","bandPosition":1},"y":{"field":"ty","type":"quantitative"},"text":{"field":"label"}}},
     {"data":{"name":"h_sig"},"transform":[{"filter":"datum.edge == 0"}],"mark":{"type":"text","baseline":"middle"},"encoding":{"x":{"field":"tx","type":"nominal"},"y":{"field":"ty","type":"quantitative"},"text":{"field":"label"}}}
    ]}
  ]}
 ]}
]
}
